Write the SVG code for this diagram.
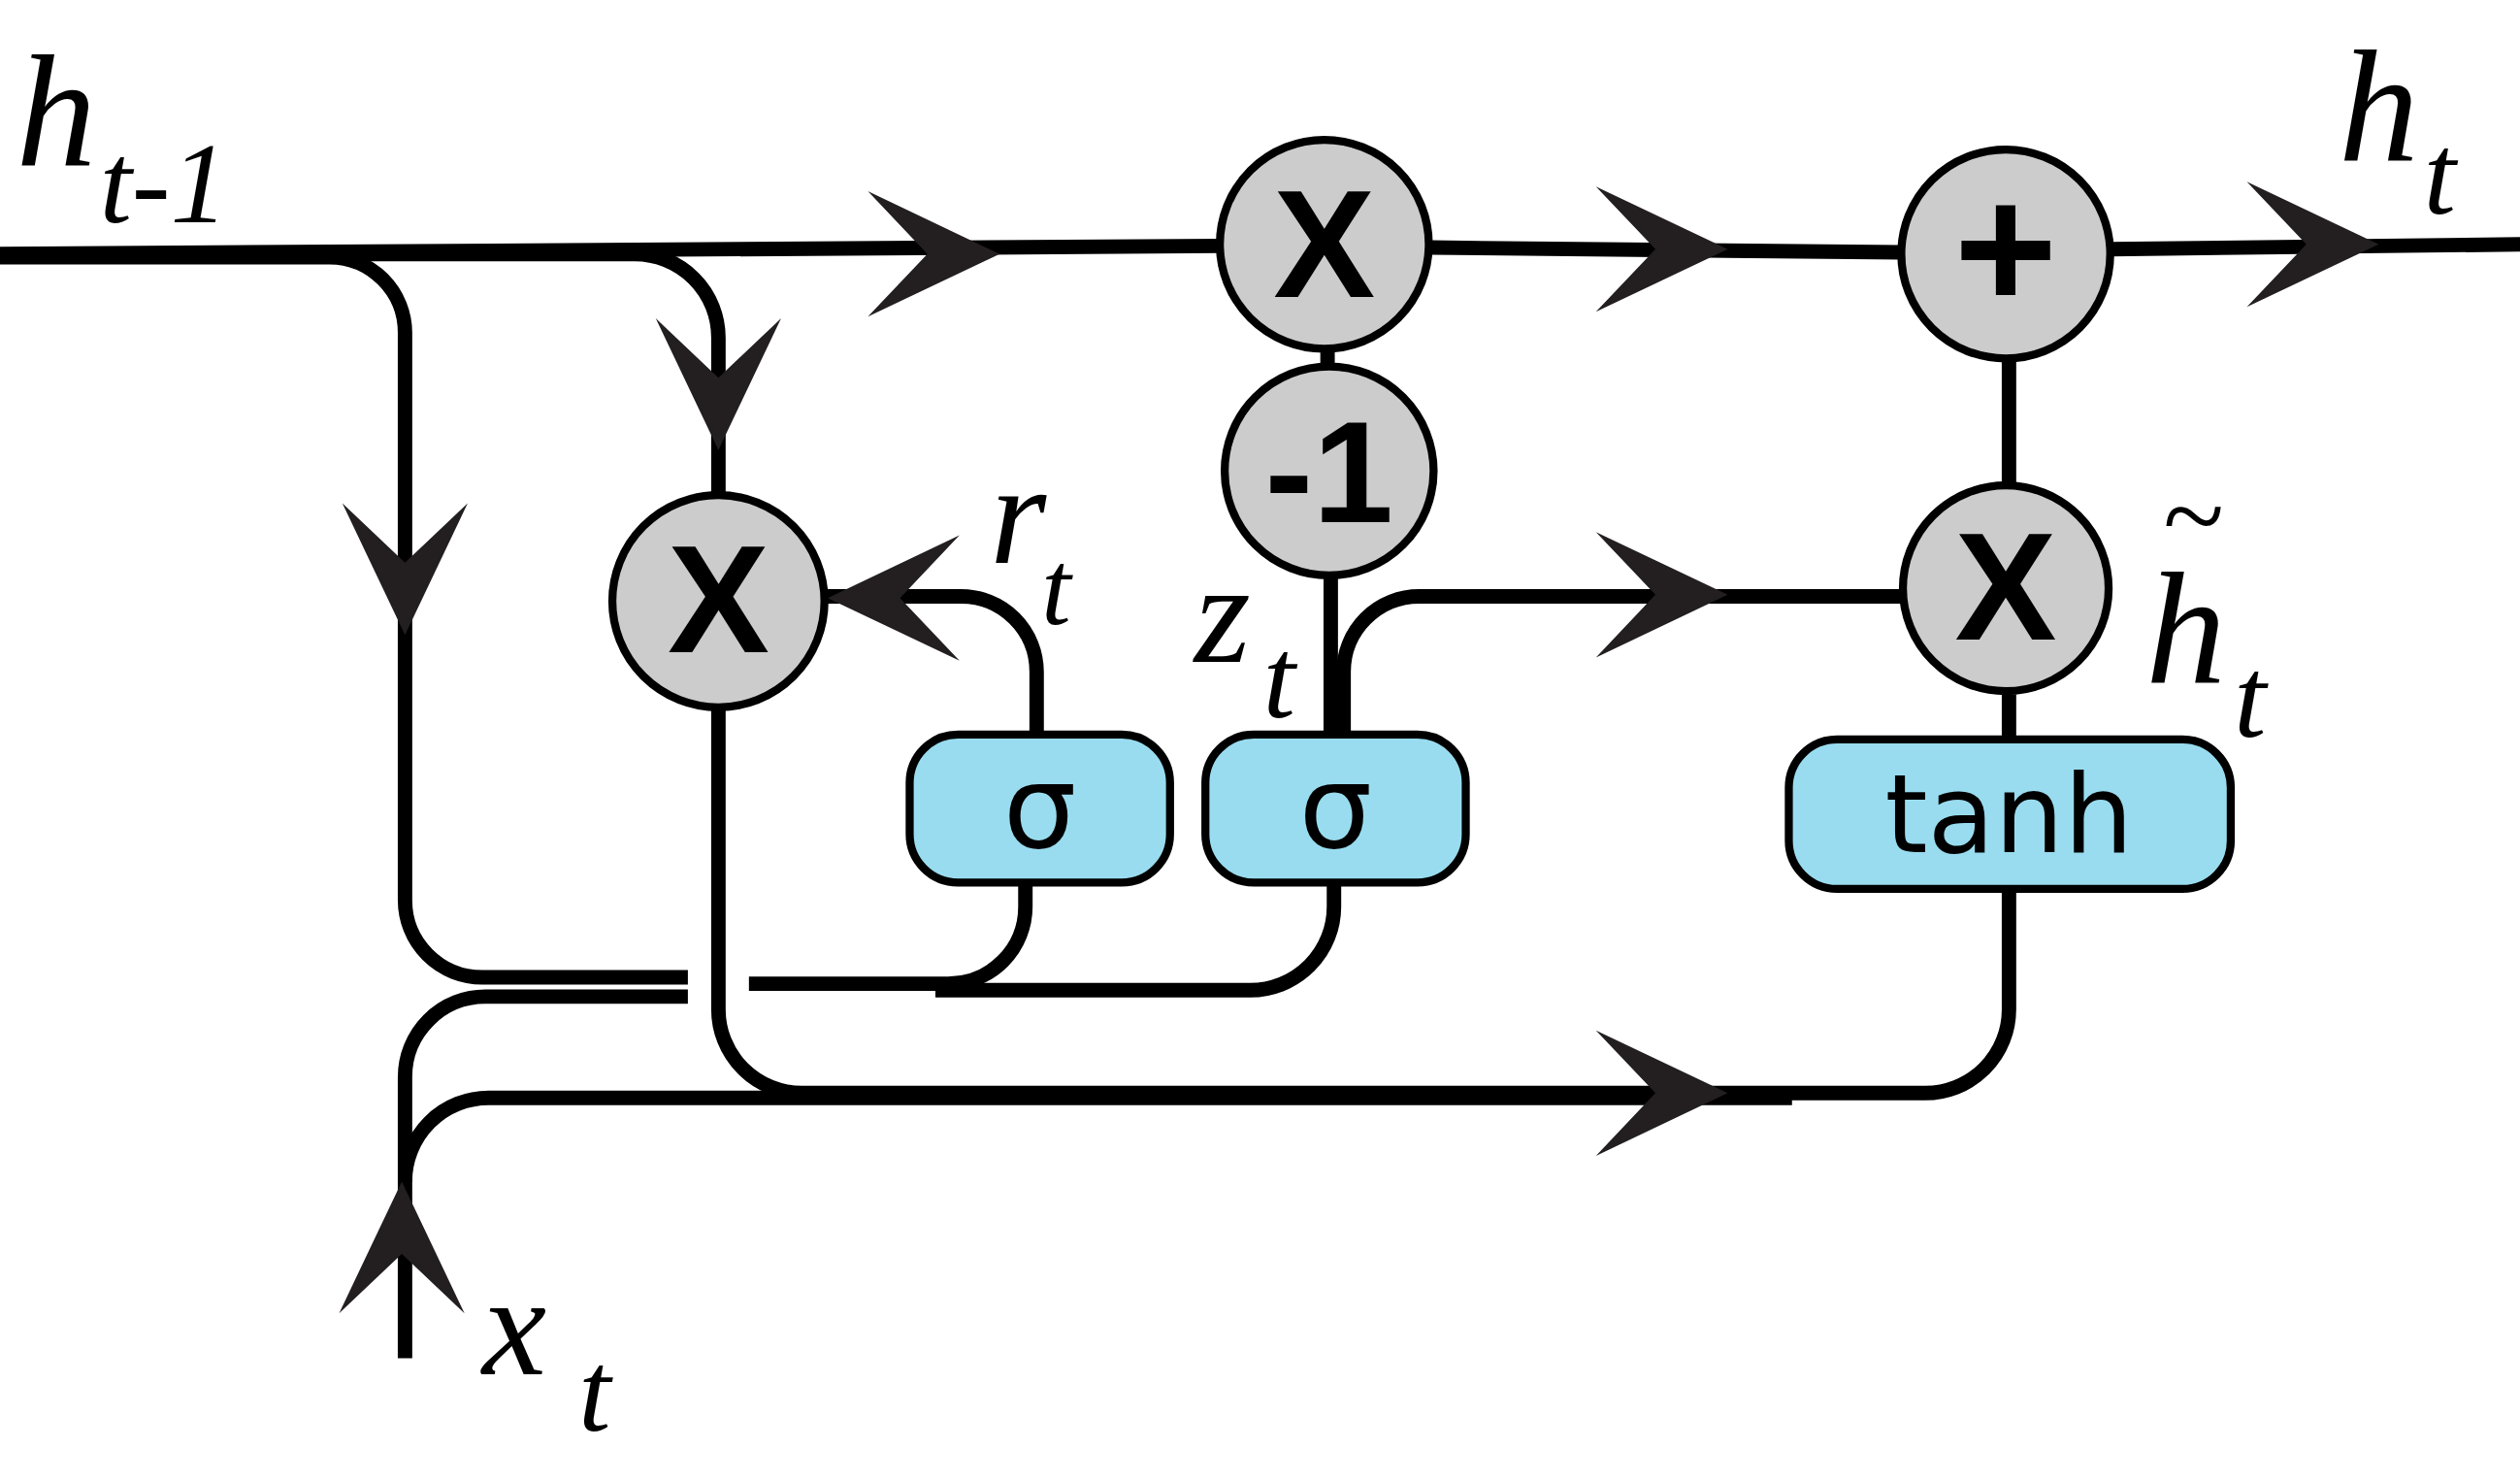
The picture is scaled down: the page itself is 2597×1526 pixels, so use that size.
<svg xmlns="http://www.w3.org/2000/svg" width="2597" height="1526" viewBox="0 0 2597 1526">
<defs>
<style>
.ln{fill:none;stroke:#000;stroke-width:9}
.c{fill:#cccccc;stroke:#000;stroke-width:5}
.b{fill:#99dcef;stroke:#000;stroke-width:5}
.op{font-family:"Liberation Sans",Arial,sans-serif;font-weight:bold;text-anchor:middle}
.lb{font-family:"Liberation Serif","Times New Roman",serif;font-style:italic}
.bt{font-family:"DejaVu Sans","Liberation Sans",sans-serif;text-anchor:middle}
</style>
<polygon id="ar" points="-82,-39 0,0 -82,39 -45,0" fill="#231f20"/>
</defs>
<rect width="2597" height="1526" fill="#fff"/>
<g transform="scale(1.6563)">
<g id="connectors">
<path class="ln" d="M0,160 H205 A47,47 0 0 1 252,207 V560 A48,48 0 0 0 300,608 H428"/>
<path class="ln" d="M200,158 H395 A52,52 0 0 1 447,210 V310"/>
<path class="ln" d="M0,158 L760,153"/>
<path class="ln" d="M890,154 L1183,157"/>
<path class="ln" d="M1313,155 L1568,152"/>
<path class="ln" d="M826,217 V230"/>
<path class="ln" d="M828,358 V457"/>
<path class="ln" d="M1250,223 V300"/>
<path class="ln" d="M1250,432 V460"/>
<path class="ln" d="M447,440 V628 A52,52 0 0 0 499,680 H1198 A52,52 0 0 0 1250,628 V553"/>
<path class="ln" d="M252,845 V735 A52,52 0 0 1 304,683 H1115"/>
<path class="ln" d="M252,735 V670 A50,50 0 0 1 302,620 H428"/>
<path class="ln" d="M466,612 H590 A48,48 0 0 0 638,564 V549"/>
<path class="ln" d="M582,616 H778 A52,52 0 0 0 830,564 V549"/>
<path class="ln" d="M645,457 V418 A47,47 0 0 0 598,371 H513"/>
<path class="ln" d="M836,457 V418 A47,47 0 0 1 883,371 H1183"/>
<use href="#ar" transform="translate(622,158)"/>
<use href="#ar" transform="translate(1075,155)"/>
<use href="#ar" transform="translate(1480,152)"/>
<use href="#ar" transform="translate(252,395) rotate(90)"/>
<use href="#ar" transform="translate(447,280) rotate(90)"/>
<use href="#ar" transform="translate(515,372) rotate(180)"/>
<use href="#ar" transform="translate(1075,370)"/>
<use href="#ar" transform="translate(1075,680)"/>
<use href="#ar" transform="translate(250,735) rotate(-90)"/>
</g>
<g id="mul-top"><circle class="c" cx="824" cy="152" r="65"/><text class="op" x="824" y="185" font-size="95">X</text></g>
<g id="neg1"><circle class="c" cx="827" cy="293" r="65"/><text class="op" x="827" y="325" font-size="90">-1</text></g>
<g id="plus"><circle class="c" cx="1248" cy="158" r="65"/><text class="op" x="1248" y="192" font-size="110">+</text></g>
<g id="mul-right"><circle class="c" cx="1248" cy="366" r="64"/><text class="op" x="1248" y="398" font-size="95">X</text></g>
<g id="mul-left"><circle class="c" cx="447" cy="374" r="66"/><text class="op" x="447" y="406" font-size="95">X</text></g>
<g id="sigma-r"><rect class="b" x="566" y="457" width="162" height="92" rx="30"/><text class="bt" x="647" y="527" font-size="72">σ</text></g>
<g id="sigma-z"><rect class="b" x="750" y="457" width="162" height="92" rx="30"/><text class="bt" x="831" y="527" font-size="72">σ</text></g>
<g id="tanh"><rect class="b" x="1113" y="460" width="275" height="93" rx="30"/><text class="bt" x="1250" y="530" font-size="68">tanh</text></g>
<g id="labels">
<text class="lb" x="10" y="103" font-size="100">h</text><text class="lb" x="62" y="138" font-size="72">t-1</text>
<text class="lb" x="1455" y="100" font-size="100">h</text><text class="lb" x="1508" y="133" font-size="72">t</text>
<text class="lb" x="616" y="350" font-size="90">r</text><text class="lb" x="648" y="388" font-size="66">t</text>
<text class="lb" x="743" y="412" font-size="90">z</text><text class="lb" x="786" y="446" font-size="72">t</text>
<text class="lb" x="1335" y="425" font-size="100">h</text><text class="lb" x="1345" y="345" font-size="70">~</text><text class="lb" x="1390" y="458" font-size="72">t</text>
<text class="lb" x="300" y="855" font-size="90">x</text><text class="lb" x="360" y="890" font-size="72">t</text>
</g>
</g>
</svg>
